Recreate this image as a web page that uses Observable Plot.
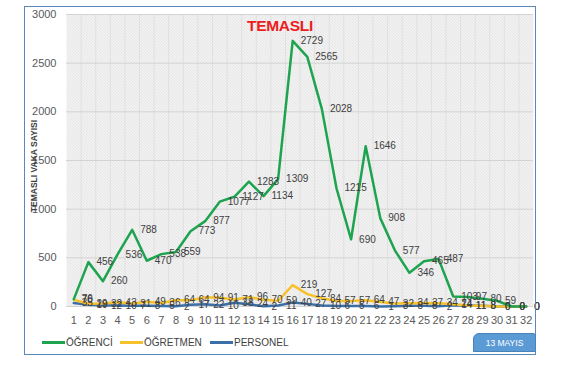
<!DOCTYPE html>
<html>
<head>
<meta charset="utf-8">
<script src="https://cdn.jsdelivr.net/npm/d3@7"></script>
<script src="https://cdn.jsdelivr.net/npm/@observablehq/plot@0.6"></script>
<style>
  html, body { margin: 0; padding: 0; background: #fff; }
  #wrap { position: relative; width: 562px; height: 369px; font-family: "Liberation Sans", Arial, sans-serif; overflow: hidden; }
  #wrap svg { position: absolute; left: 0; top: 0; }
  .frame { position: absolute; left: 24px; top: 6px; width: 512px; height: 349px; border: 1px solid #5b87bd; box-sizing: border-box; pointer-events: none; }
  .title { position: absolute; left: 247px; top: 17px; color: #ee1c1c; font-weight: bold; font-size: 15.5px; letter-spacing: -0.3px; }
  .ylab { position: absolute; left: 34px; top: 166px; transform: translate(-50%, -50%) rotate(-90deg); white-space: nowrap; font-size: 8.5px; font-weight: bold; color: #404040; }
  .legend { position: absolute; top: 337px; left: 0; font-size: 10px; color: #404040; }
  .item { position: absolute; white-space: nowrap; display: flex; align-items: center; }
  .item span.sw { display: inline-block; width: 23px; height: 2.5px; margin-right: 1px; }
  .btn { position: absolute; left: 473px; top: 333px; width: 63px; height: 19px; background: #5b9bd5; border: 1px solid #4a82b8; border-radius: 6px 3px 0 0; box-sizing: border-box; color: #fff; font-size: 8.5px; display: flex; align-items: center; justify-content: center; }
</style>
</head>
<body>
<div id="wrap">
  <div class="frame"></div>
</div>
<script>
// ---- data ----
const days = [1,2,3,4,5,6,7,8,9,10,11,12,13,14,15,16,17,18,19,20,21,22,23,24,25,26,27,28,29,30,31,32];
const ogrenci  = [76,456,260,536,788,470,538,559,773,877,1077,1127,1283,1134,1309,2729,2565,2028,1215,690,1646,908,577,346,465,487,103,97,80,59,0,0];
const ogretmen = [70,29,32,43,31,49,36,64,64,94,91,71,96,70,59,219,127,84,57,57,64,47,32,34,37,34,24,11,8,0,0,0];
const personel = [35,19,12,10,7,8,5,2,17,22,10,38,24,2,11,40,27,10,6,5,6,1,3,8,8,2,14,11,8,0,0,0];
const seriesNames = ["ÖĞRENCİ", "ÖĞRETMEN", "PERSONEL"];
const seriesColors = ["#1ea34f", "#f7c12b", "#3b6fa8"];
const yTicks = [0, 500, 1000, 1500, 2000, 2500, 3000];
const titleText = "TEMASLI";
const yTitle = "TEMASLI VAKA SAYISI";
const dateTag = "13 MAYIS";

const allSeries = [ogrenci, ogretmen, personel];
const rows = [];
allSeries.forEach((vals, si) => vals.forEach((v, i) => rows.push({day: days[i], value: v, series: seriesNames[si]})));
const boundaries = days.map(d => d + 0.5).slice(0, -1);

const labelOrder = [2, 1, 0]; // draw green labels on top

const plot = Plot.plot({
  width: 562,
  height: 369,
  marginLeft: 66,
  marginRight: 29,
  marginTop: 14,
  marginBottom: 63,
  style: {fontFamily: "Liberation Sans, Arial, sans-serif", fontSize: "11px", color: "#595959", background: "transparent"},
  x: {type: "linear", domain: [0.5, 32.5], ticks: days, tickFormat: d => String(d), tickSize: 0, tickPadding: 10, label: null},
  y: {domain: [0, 3000], ticks: yTicks, tickFormat: d => String(d), tickSize: 0, tickPadding: 10, label: null},
  color: {domain: seriesNames, range: seriesColors},
  marks: [
    Plot.frame({fill: "url(#hatch)", stroke: "none"}),
    Plot.ruleX(boundaries, {stroke: "#e0e0e0", strokeWidth: 1}),
    Plot.ruleY(yTicks, {stroke: "#d3d3d3", strokeWidth: 1}),
    Plot.line(rows.filter(r => r.series === seriesNames[2]), {x: "day", y: "value", stroke: seriesColors[2], strokeWidth: 2.5}),
    Plot.line(rows.filter(r => r.series === seriesNames[1]), {x: "day", y: "value", stroke: seriesColors[1], strokeWidth: 2.5}),
    Plot.line(rows.filter(r => r.series === seriesNames[0]), {x: "day", y: "value", stroke: seriesColors[0], strokeWidth: 2.5}),
    ...labelOrder.map(si => Plot.text(rows.filter(r => r.series === seriesNames[si]), {
      x: "day", y: "value", text: d => String(d.value), dx: 8, textAnchor: "start",
      fontSize: 10, fill: "#404040"
    }))
  ]
});

// hatch pattern for plot background
const svg = d3.select(plot);
const defs = svg.insert("defs", ":first-child");
const pat = defs.append("pattern").attr("id", "hatch").attr("patternUnits", "userSpaceOnUse")
  .attr("width", 3).attr("height", 3);
pat.append("rect").attr("width", 3).attr("height", 3).attr("fill", "#fbfbfb");
pat.append("path").attr("d", "M-1,-1 L4,4 M-1,2 L1,4 M2,-1 L4,1").attr("stroke", "#cdcdcd").attr("stroke-width", 0.9);

const wrap = document.getElementById("wrap");
wrap.insertBefore(plot, wrap.firstChild);

// title
const t = document.createElement("div");
t.className = "title"; t.textContent = titleText; wrap.appendChild(t);
// y axis title
const yl = document.createElement("div");
yl.className = "ylab"; yl.textContent = yTitle; wrap.appendChild(yl);
// legend
const lg = document.createElement("div");
lg.className = "legend";
const legX = [42, 120, 210];
seriesNames.forEach((n, i) => {
  const it = document.createElement("div");
  it.className = "item";
  it.style.left = legX[i] + "px";
  it.style.top = "0px";
  const sw = document.createElement("span");
  sw.className = "sw"; sw.style.background = seriesColors[i];
  it.appendChild(sw);
  const tx = document.createElement("span");
  tx.textContent = n;
  it.appendChild(tx);
  lg.appendChild(it);
});
wrap.appendChild(lg);
// date tag
const b = document.createElement("div");
b.className = "btn"; b.textContent = dateTag; wrap.appendChild(b);
</script>
</body>
</html>
